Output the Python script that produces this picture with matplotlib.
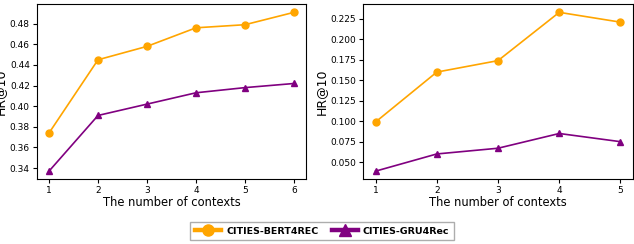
import matplotlib
matplotlib.use("Agg")
import matplotlib.pyplot as plt
from matplotlib.lines import Line2D

x_left = [1, 2, 3, 4, 5, 6]
bert_left = [0.374, 0.445, 0.458, 0.476, 0.479, 0.491]
gru_left = [0.337, 0.391, 0.402, 0.413, 0.418, 0.422]

x_right = [1, 2, 3, 4, 5]
bert_right = [0.099, 0.160, 0.174, 0.233, 0.221]
gru_right = [0.039, 0.060, 0.067, 0.085, 0.075]

series_names = ["CITIES-BERT4REC", "CITIES-GRU4Rec"]
xlabel = "The number of contexts"
ylabel = "HR@10"

orange = "#FFA500"
purple = "#800080"

fig = plt.figure(figsize=(6.34, 2.44), dpi=100)
ax1 = fig.add_axes([0.058, 0.266, 0.425, 0.716])
ax2 = fig.add_axes([0.573, 0.266, 0.425, 0.716])

for ax, xs, b, g, yt in [
    (ax1, x_left, bert_left, gru_left, [0.34, 0.36, 0.38, 0.40, 0.42, 0.44, 0.46, 0.48]),
    (ax2, x_right, bert_right, gru_right, [0.05, 0.075, 0.1, 0.125, 0.15, 0.175, 0.2, 0.225]),
]:
    ax.plot(xs, b, color=orange, marker="o", markersize=5, linewidth=1.2)
    ax.plot(xs, g, color=purple, marker="^", markersize=5, linewidth=1.2)
    ax.set_xticks(xs)
    ax.set_yticks(yt)
    if ax is ax2:
        ax.set_yticklabels([f"{v:.3f}" for v in yt])
    ax.tick_params(labelsize=6.5, length=3, pad=2)
    ax.set_xlabel(xlabel, fontsize=8.3, labelpad=1)
    ax.set_ylabel(ylabel, fontsize=9, labelpad=2)

handles = [
    Line2D([], [], color=orange, marker="o", markersize=8, linewidth=3.2),
    Line2D([], [], color=purple, marker="^", markersize=8, linewidth=3.2),
]
leg = fig.legend(handles, series_names, loc="center", bbox_to_anchor=(0.508, 0.053),
                 ncol=2, prop={"weight": "bold", "size": 6.8}, frameon=True,
                 fancybox=False, edgecolor="#999999", handlelength=2.8,
                 handletextpad=0.5, columnspacing=1.4, borderpad=0.5)
fig.savefig("out.png", dpi=100)
